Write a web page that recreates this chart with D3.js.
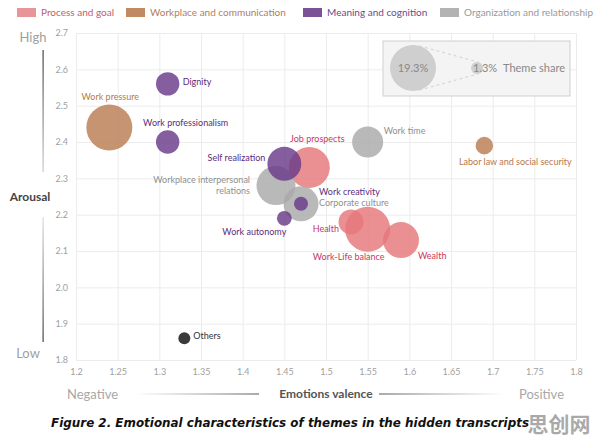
<!DOCTYPE html>
<html>
<head>
<meta charset="utf-8">
<script src="https://cdn.jsdelivr.net/npm/d3@7"></script>
<style>
  html, body { margin: 0; padding: 0; background: #fff; }
  svg { display: block; font-family: Lato, "Noto Sans", sans-serif; }
</style>
</head>
<body>
<svg id="chart" width="596" height="443"></svg>
<script>
// ---------- data ----------
const categories = ["Process and goal", "Workplace and communication", "Meaning and cognition", "Organization and relationship"];
const themeNames = ["Work pressure", "Work-Life balance", "Job prospects", "Workplace interpersonal relations", "Wealth", "Corporate culture", "Self realization", "Work time", "Health", "Dignity", "Work professionalism", "Labor law and social security", "Work autonomy", "Work creativity", "Others"];
const themeCategory = [1, 0, 0, 3, 0, 3, 2, 3, 0, 2, 2, 1, 2, 2, 4];
const valence = [1.24, 1.55, 1.48, 1.44, 1.59, 1.47, 1.45, 1.55, 1.53, 1.31, 1.31, 1.69, 1.45, 1.47, 1.33];
const arousal = [2.44, 2.16, 2.33, 2.28, 2.13, 2.23, 2.34, 2.40, 2.18, 2.56, 2.40, 2.39, 2.19, 2.23, 1.86];
const share = [19.3, 18.5, 15.3, 13.9, 11.8, 11.2, 10.5, 8.8, 5.7, 5.0, 5.0, 2.8, 2.0, 1.8, 1.3];
const xTickLabels = ["1.2", "1.25", "1.3", "1.35", "1.4", "1.45", "1.5", "1.55", "1.6", "1.65", "1.7", "1.75", "1.8"];
const yTickLabels = ["1.8", "1.9", "2.0", "2.1", "2.2", "2.3", "2.4", "2.5", "2.6", "2.7"];
const legendShares = [19.3, 1.3];

// ---------- styles ----------
const bubbleFill = ["#e5777b", "#b97c52", "#6a3b8a", "#a9a9a9", "#3a3a3a"];
const labelFill = ["#c8375a", "#b5784f", "#5b2d7a", "#8f8f8f", "#333333"];
const legendSwatch = ["#e8959a", "#c08a65", "#7b5296", "#b3b3b3"];
const legendText = ["#c35a6e", "#b08060", "#6b4a8a", "#999999"];

// label placement (offsets from bubble centre, px)
const labelPlace = {
  "Dignity": [15, -2, "start"],
  "Work pressure": [1, -31, "middle"],
  "Work professionalism": [18, -19, "middle"],
  "Self realization": [-19, -6, "end"],
  "Workplace interpersonal relations": [-26, -6, "end"],
  "Job prospects": [8, -29, "middle"],
  "Work time": [16, -11, "start"],
  "Work creativity": [18, -12, "start"],
  "Corporate culture": [18, -1, "start"],
  "Work autonomy": [-30, 14, "middle"],
  "Health": [-12, 7, "end"],
  "Work-Life balance": [-19, 28, "middle"],
  "Wealth": [17, 16, "start"],
  "Labor law and social security": [31, 16, "middle"],
  "Others": [9, -2, "start"]
};

const svg = d3.select("#chart");
const X0 = 76, X1 = 576, Y0 = 33, Y1 = 360;
const x = d3.scaleLinear().domain([1.2, 1.8]).range([X0, X1]);
const y = d3.scaleLinear().domain([1.8, 2.7]).range([Y1, Y0]);
const r = d3.scaleSqrt().domain([0, 19.3]).range([0, 23]);

// gradients
const defs = svg.append("defs");
function grad(id, x1, y1, x2, y2, c1, c2) {
  const g = defs.append("linearGradient").attr("id", id)
    .attr("x1", x1).attr("y1", y1).attr("x2", x2).attr("y2", y2);
  g.append("stop").attr("offset", "0%").attr("stop-color", c1);
  g.append("stop").attr("offset", "100%").attr("stop-color", c2);
}
grad("gl", "0%", "0%", "100%", "0%", "#ffffff", "#555555");
grad("gr", "0%", "0%", "100%", "0%", "#555555", "#ffffff");
grad("gt", "0%", "0%", "0%", "100%", "#444444", "#cccccc");
grad("gb", "0%", "0%", "0%", "100%", "#dddddd", "#444444");

// ---------- legend (top) ----------
const legX = [17, 126, 303, 440];
const lg = svg.append("g");
categories.forEach((c, i) => {
  lg.append("rect").attr("x", legX[i]).attr("y", 8).attr("width", 19).attr("height", 9)
    .attr("fill", legendSwatch[i]);
  lg.append("text").attr("x", legX[i] + 24).attr("y", 12.5).attr("dy", "0.35em")
    .attr("font-size", 10).attr("fill", legendText[i]).text(c);
});

// ---------- grid + axes ----------
const xAxis = d3.axisBottom(x)
  .tickValues(xTickLabels.map(Number))
  .tickFormat((d, i) => xTickLabels[i])
  .tickSize(-(Y1 - Y0)).tickPadding(9);
const gx = svg.append("g").attr("transform", `translate(0,${Y1})`).call(xAxis);
gx.select(".domain").remove();
gx.selectAll("line").attr("stroke", "#ececec");
gx.selectAll("text").attr("fill", "#a0a0a0").attr("font-size", 9).attr("font-family", "Lato, sans-serif");

const yAxis = d3.axisLeft(y)
  .tickValues(yTickLabels.map(Number))
  .tickFormat((d, i) => yTickLabels[i])
  .tickSize(-(X1 - X0)).tickPadding(8);
const gy = svg.append("g").attr("transform", `translate(${X0},0)`).call(yAxis);
gy.select(".domain").remove();
gy.selectAll("line").attr("stroke", "#ececec");
gy.selectAll("text").attr("fill", "#a0a0a0").attr("font-size", 9).attr("font-family", "Lato, sans-serif");

// ---------- theme-share legend box ----------
const bx = svg.append("g");
bx.append("rect").attr("x", 383).attr("y", 41).attr("width", 187).attr("height", 55)
  .attr("fill", "#f4f4f4").attr("stroke", "#cfcfcf").attr("stroke-width", 1);
const c1 = [413, 68], c2 = [477, 68];
const R1 = r(legendShares[0]), R2 = r(legendShares[1]);
const dd = c2[0] - c1[0];
const cosA = (R1 - R2) / dd, sinA = Math.sqrt(1 - cosA * cosA);
[-1, 1].forEach(s => {
  bx.append("line")
    .attr("x1", c1[0] + R1 * cosA).attr("y1", c1[1] + s * R1 * sinA)
    .attr("x2", c2[0] + R2 * cosA).attr("y2", c2[1] + s * R2 * sinA)
    .attr("stroke", "#c8c8c8").attr("stroke-dasharray", "3,3").attr("stroke-width", 0.8);
});
bx.append("circle").attr("cx", c1[0]).attr("cy", c1[1]).attr("r", R1).attr("fill", "#cfcfcf");
bx.append("circle").attr("cx", c2[0]).attr("cy", c2[1]).attr("r", R2).attr("fill", "#cfcfcf");
bx.append("text").attr("x", c1[0]).attr("y", c1[1]).attr("dy", "0.35em").attr("text-anchor", "middle")
  .attr("font-size", 11).attr("fill", "#888").text(legendShares[0] + "%");
bx.append("text").attr("x", 473).attr("y", 68).attr("dy", "0.35em")
  .attr("font-size", 11).attr("fill", "#888").text(legendShares[1] + "%");
bx.append("text").attr("x", 503).attr("y", 68).attr("dy", "0.35em")
  .attr("font-size", 11).attr("fill", "#888").text("Theme share");

// ---------- bubbles ----------
const themes = themeNames.map((n, i) => ({
  name: n, cat: themeCategory[i], vx: valence[i], vy: arousal[i], s: share[i]
}));
const order = themes.slice().sort((a, b) => b.s - a.s);
svg.append("g").selectAll("circle").data(order).join("circle")
  .attr("cx", d => x(d.vx)).attr("cy", d => y(d.vy)).attr("r", d => r(d.s))
  .attr("fill", d => bubbleFill[d.cat])
  .attr("fill-opacity", d => d.cat === 4 ? 1 : 0.82);

// ---------- labels ----------
const lbl = svg.append("g").attr("font-size", 9);
themes.forEach(d => {
  const p = labelPlace[d.name];
  const t = lbl.append("text")
    .attr("x", x(d.vx) + p[0]).attr("y", y(d.vy) + p[1])
    .attr("text-anchor", p[2]).attr("fill", labelFill[d.cat]);
  if (d.name === "Workplace interpersonal relations") {
    t.append("tspan").attr("x", x(d.vx) + p[0]).attr("dy", "0.35em").text("Workplace interpersonal");
    t.append("tspan").attr("x", x(d.vx) + p[0]).attr("dy", "1.25em").text("relations");
  } else {
    t.attr("dy", "0.35em").text(d.name);
  }
});

// ---------- axis titles ----------
svg.append("text").attr("x", 33).attr("y", 37).attr("dy", "0.35em").attr("text-anchor", "middle")
  .attr("font-size", 13).attr("fill", "#a0a0a0").text("High");
svg.append("text").attr("x", 28).attr("y", 353).attr("dy", "0.35em").attr("text-anchor", "middle")
  .attr("font-size", 13).attr("fill", "#a0a0a0").text("Low");
svg.append("text").attr("x", 30).attr("y", 197).attr("dy", "0.35em").attr("text-anchor", "middle")
  .attr("font-size", 12).attr("font-weight", "bold").attr("fill", "#444").text("Arousal");
svg.append("rect").attr("x", 42.5).attr("y", 50).attr("width", 1.2).attr("height", 122).attr("fill", "url(#gt)");
svg.append("rect").attr("x", 42.5).attr("y", 217).attr("width", 1.2).attr("height", 125).attr("fill", "url(#gb)");

svg.append("text").attr("x", 67).attr("y", 394).attr("dy", "0.35em")
  .attr("font-size", 13).attr("fill", "#a8a8a8").text("Negative");
svg.append("text").attr("x", 564).attr("y", 394).attr("dy", "0.35em").attr("text-anchor", "end")
  .attr("font-size", 13).attr("fill", "#a8a8a8").text("Positive");
svg.append("text").attr("x", 326).attr("y", 394).attr("dy", "0.35em").attr("text-anchor", "middle")
  .attr("font-size", 12).attr("font-weight", "bold").attr("fill", "#555").text("Emotions valence");
svg.append("rect").attr("x", 135).attr("y", 393.5).attr("width", 124).attr("height", 1).attr("fill", "url(#gl)");
svg.append("rect").attr("x", 379).attr("y", 393.5).attr("width", 126).attr("height", 1).attr("fill", "url(#gr)");

// ---------- caption ----------
svg.append("text").attr("x", 51).attr("y", 423).attr("dy", "0.35em")
  .attr("font-family", "'DejaVu Sans', sans-serif").attr("font-size", 12)
  .attr("font-weight", "bold").attr("font-style", "italic").attr("fill", "#111")
  .attr("textLength", 478).attr("lengthAdjust", "spacingAndGlyphs")
  .text("Figure 2. Emotional characteristics of themes in the hidden transcripts");
svg.append("text").attr("x", 559).attr("y", 425).attr("dy", "0.35em").attr("text-anchor", "middle")
  .attr("font-family", "'Noto Sans CJK SC', sans-serif").attr("font-size", 21).attr("font-weight", "bold")
  .attr("fill", "#9a9a9a").attr("fill-opacity", 0.85).text("思创网");
</script>
</body>
</html>
